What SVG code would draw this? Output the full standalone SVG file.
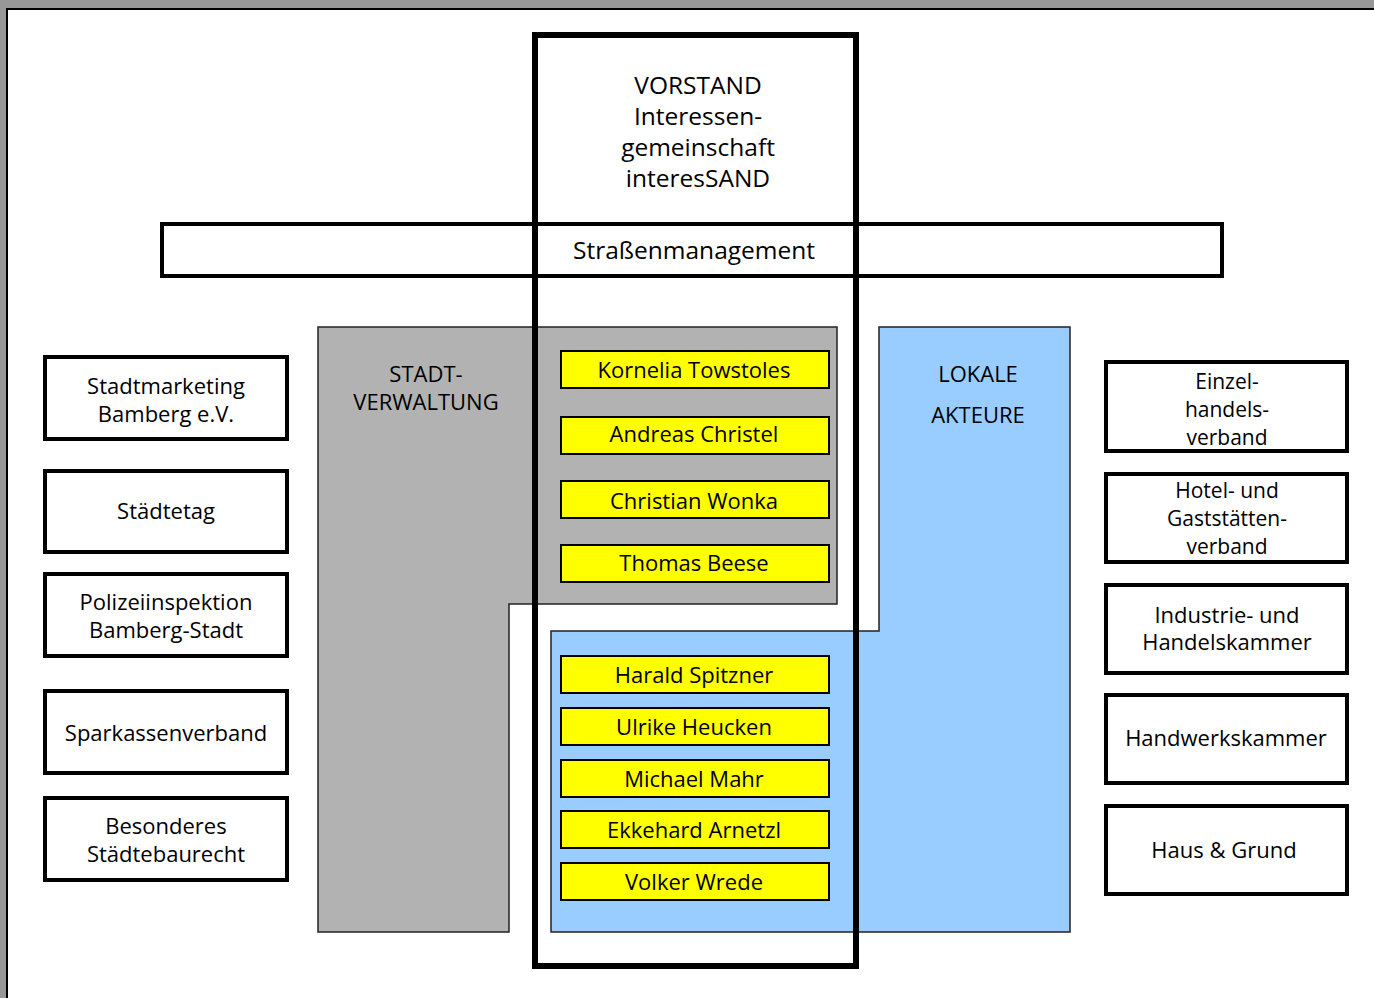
<svg xmlns="http://www.w3.org/2000/svg" width="1374" height="998" viewBox="0 0 1374 998">
  <style>
    text { font-family: "Open Sans", "Liberation Sans", sans-serif; fill: #000; text-anchor: middle; }
    .lbl { font-size: 22px; }
    .tight { font-size: 21px; }
    .big { font-size: 24.5px; }
    .box { fill: #fff; stroke: #000; stroke-width: 4; }
    .person { fill: #ffff00; stroke: #000; stroke-width: 2; }
    .stadt { fill: #b2b2b2; stroke: #222; stroke-width: 1.5; }
    .lokal { fill: #99ccff; stroke: #222; stroke-width: 1.5; }
  </style>

  <!-- canvas and page -->
  <rect x="0" y="0" width="1374" height="998" fill="#989898"/>
  <rect x="7" y="9" width="1400" height="1100" fill="#fff" stroke="#000" stroke-width="2"/>

  <!-- board box background -->
  <rect x="535" y="35" width="321" height="931" fill="#fff"/>

  <!-- street management bar -->
  <g id="strassenmanagement">
    <rect class="box" x="162" y="224" width="1060" height="52"/>
    <text class="big" x="694" y="259">Straßenmanagement</text>
  </g>

  <!-- city administration area -->
  <g id="stadtverwaltung">
    <polygon class="stadt" points="318,327 837,327 837,604 509,604 509,932 318,932"/>
    <text class="lbl" x="426" y="382">STADT-</text>
    <text class="lbl" x="426" y="410">VERWALTUNG</text>
  </g>

  <!-- local actors area -->
  <g id="lokale-akteure">
    <polygon class="lokal" points="879,327 1070,327 1070,932 551,932 551,631 879,631"/>
    <text class="lbl" x="978" y="382">LOKALE</text>
    <text class="lbl" x="978" y="423">AKTEURE</text>
  </g>

  <!-- members: city administration -->
  <g id="towstoles"><rect class="person" x="561" y="351" width="268" height="37"/><text class="lbl" x="694" y="377.5">Kornelia Towstoles</text></g>
  <g id="christel"><rect class="person" x="561" y="417" width="268" height="37"/><text class="lbl" x="694" y="442">Andreas Christel</text></g>
  <g id="wonka"><rect class="person" x="561" y="481" width="268" height="37"/><text class="lbl" x="694" y="508.5">Christian Wonka</text></g>
  <g id="beese"><rect class="person" x="561" y="545" width="268" height="37"/><text class="lbl" x="694" y="571">Thomas Beese</text></g>

  <!-- members: local actors -->
  <g id="spitzner"><rect class="person" x="561" y="656" width="268" height="37"/><text class="lbl" x="694" y="682.5">Harald Spitzner</text></g>
  <g id="heucken"><rect class="person" x="561" y="708" width="268" height="37"/><text class="lbl" x="694" y="734.5">Ulrike Heucken</text></g>
  <g id="mahr"><rect class="person" x="561" y="760" width="268" height="37"/><text class="lbl" x="694" y="786.5">Michael Mahr</text></g>
  <g id="arnetzl"><rect class="person" x="561" y="811" width="268" height="37"/><text class="lbl" x="694" y="837.5">Ekkehard Arnetzl</text></g>
  <g id="wrede"><rect class="person" x="561" y="863" width="268" height="37"/><text class="lbl" x="694" y="889.5">Volker Wrede</text></g>

  <!-- board outline drawn over everything -->
  <g id="vorstand">
    <rect x="535" y="35" width="321" height="931" fill="none" stroke="#000" stroke-width="6"/>
    <text class="big" x="698" y="94">VORSTAND</text>
    <text class="big" x="698" y="125">Interessen-</text>
    <text class="big" x="698" y="156">gemeinschaft</text>
    <text class="big" x="698" y="187">interesSAND</text>
  </g>

  <!-- partners, left column -->
  <g id="stadtmarketing"><rect class="box" x="45" y="357" width="242" height="82"/><text class="lbl" x="166" y="394">Stadtmarketing</text><text class="lbl" x="166" y="421.5">Bamberg e.V.</text></g>
  <g id="staedtetag"><rect class="box" x="45" y="471" width="242" height="81"/><text class="lbl" x="166" y="518.5">Städtetag</text></g>
  <g id="polizei"><rect class="box" x="45" y="574" width="242" height="82"/><text class="lbl" x="166" y="610">Polizeiinspektion</text><text class="lbl" x="166" y="637.5">Bamberg-Stadt</text></g>
  <g id="sparkasse"><rect class="box" x="45" y="691" width="242" height="82"/><text class="lbl" x="166" y="741">Sparkassenverband</text></g>
  <g id="staedtebaurecht"><rect class="box" x="45" y="798" width="242" height="82"/><text class="lbl" x="166" y="834">Besonderes</text><text class="lbl" x="166" y="861.5">Städtebaurecht</text></g>

  <!-- partners, right column -->
  <g id="einzelhandel"><rect class="box" x="1106" y="362" width="241" height="89"/><text class="tight" x="1227" y="389">Einzel-</text><text class="tight" x="1227" y="417">handels-</text><text class="tight" x="1227" y="445">verband</text></g>
  <g id="dehoga"><rect class="box" x="1106" y="474" width="241" height="88"/><text class="tight" x="1227" y="498">Hotel- und</text><text class="tight" x="1227" y="526">Gaststätten-</text><text class="tight" x="1227" y="554">verband</text></g>
  <g id="ihk"><rect class="box" x="1106" y="585" width="241" height="88"/><text class="lbl" x="1227" y="622.5">Industrie- und</text><text class="lbl" x="1227" y="650">Handelskammer</text></g>
  <g id="hwk"><rect class="box" x="1106" y="695" width="241" height="88"/><text class="lbl" x="1226" y="746">Handwerkskammer</text></g>
  <g id="hausgrund"><rect class="box" x="1106" y="806" width="241" height="88"/><text class="lbl" x="1224" y="857.5">Haus &amp; Grund</text></g>

  <!-- no connectors: relations are shown by overlap -->
  <g id="connectors"/>
</svg>
